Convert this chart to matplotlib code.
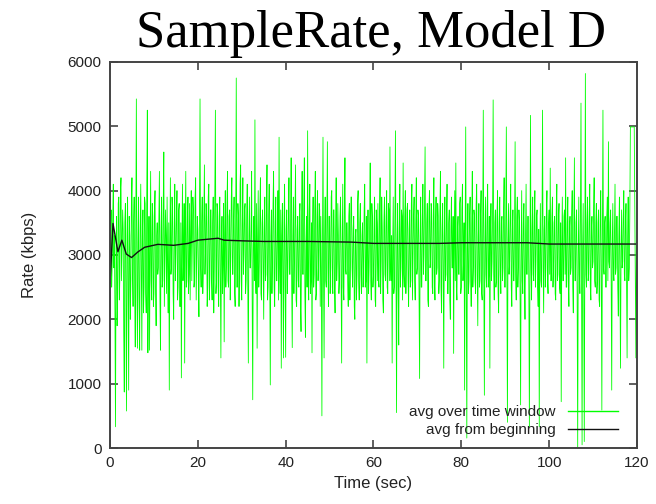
import numpy as np
import matplotlib
matplotlib.use('Agg')
import matplotlib.pyplot as plt

# rate sampled every 0.125 sec (kbps), one row per second
window_rate = [
    2600, 3300, 3700, 2500, 2900, 3600, 4100, 2800,
    3300, 2100, 330, 3100, 3600, 1900, 2400, 3800,
    3900, 2300, 2700, 4000, 4200, 2600, 3100, 3700,
    3400, 1800, 870, 3500, 3800, 2200, 575, 3300,
    3900, 2500, 900, 3600, 3300, 2000, 2600, 3800,
    4200, 2700, 2200, 3500, 3900, 2400, 1570, 3700,
    5425, 2600, 1550, 3200, 3900, 2300, 1520, 3400,
    4100, 2800, 1520, 3300, 3700, 2100, 2500, 3900,
    3800, 2400, 2100, 4000, 5250, 1480, 2900, 3600,
    1520, 3100, 4300, 2600, 2300, 3800, 3600, 2200,
    2400, 3700, 4000, 2500, 1900, 3300, 3500, 2700,
    2800, 3600, 4300, 2300, 1520, 3400, 3900, 2500,
    2600, 3800, 4600, 2200, 2900, 3700, 3300, 2400,
    3900, 2800, 2100, 3500, 900, 3100, 4200, 2700,
    2800, 3900, 3700, 2400, 2000, 3400, 4100, 2600,
    3000, 3600, 4000, 2300, 2500, 3700, 3800, 2200,
    2200, 3500, 1090, 3100, 4100, 2600, 2900, 3800,
    1320, 3300, 4300, 2500, 2600, 3600, 3900, 2400,
    2700, 3800, 2300, 3300, 4000, 2600, 3200, 3900,
    3700, 2500, 2600, 3900, 4200, 2300, 2900, 3600,
    3400, 2600, 2040, 3700, 5425, 2800, 2500, 3500,
    3900, 2400, 2800, 3600, 4400, 2700, 3100, 3800,
    3600, 2200, 2500, 3900, 4100, 2300, 2700, 3700,
    3700, 2600, 2300, 3500, 3900, 2100, 2800, 4000,
    5250, 2400, 2600, 3800, 3700, 2500, 2200, 3600,
    3900, 2700, 1400, 3200, 3600, 2400, 2900, 3800,
    1650, 3300, 4000, 2500, 2800, 3700, 4300, 2600,
    2500, 3600, 3700, 2300, 3000, 3900, 4200, 2700,
    2700, 3500, 3900, 2400, 2200, 3600, 5750, 2500,
    2500, 3800, 3600, 2200, 2900, 4100, 4400, 2600,
    2300, 3500, 4200, 2700, 3000, 3700, 3800, 2400,
    2600, 3600, 4100, 2500, 1320, 3300, 3900, 2800,
    2800, 3400, 4300, 2300, 750, 3100, 3600, 2600,
    5100, 2700, 2400, 3800, 1550, 3200, 4000, 2500,
    2900, 3700, 4200, 2400, 2300, 3500, 3700, 2800,
    2000, 3400, 3900, 2600, 2700, 3800, 4400, 2300,
    2500, 3600, 4100, 2700, 980, 3300, 3700, 2400,
    2900, 3800, 4300, 2500, 2200, 3500, 3900, 2600,
    2600, 3400, 4000, 2300, 4830, 2800, 2400, 3700,
    1240, 3300, 3800, 2600, 1400, 3500, 4100, 2500,
    1410, 3400, 3700, 2400, 2800, 3600, 4200, 2700,
    2700, 3500, 4510, 2500, 1560, 3300, 3900, 2400,
    2900, 3700, 4400, 2300, 2200, 3400, 3600, 2600,
    2500, 3600, 3800, 2200, 1810, 3500, 4300, 2700,
    2700, 3800, 4510, 2400, 1720, 3200, 3600, 2500,
    4930, 2600, 2300, 3700, 4100, 2400, 2600, 3500,
    1480, 3400, 3900, 2500, 2700, 3700, 4300, 2300,
    2400, 3600, 4000, 2600, 2900, 3800, 3700, 2200,
    3600, 2800, 500, 3100, 4830, 2700, 1400, 3300,
    3900, 2600, 2500, 3500, 4760, 2800, 2200, 3600,
    3600, 2400, 2800, 3900, 4000, 2500, 2400, 3700,
    3700, 2500, 2100, 3400, 4200, 2600, 2900, 3800,
    3300, 2400, 2600, 3600, 3900, 2700, 1320, 3200,
    4100, 2500, 2300, 3700, 4510, 2800, 2700, 3500,
    3500, 2600, 2200, 3600, 3800, 2300, 2900, 3900,
    3900, 2800, 2500, 3400, 3600, 2200, 2000, 3300,
    3400, 2300, 2700, 3800, 4000, 2600, 2300, 3500,
    3800, 2700, 2400, 3300, 3500, 2500, 2900, 3700,
    4100, 2500, 2600, 3600, 1320, 3100, 3700, 2400,
    2800, 3500, 4430, 2600, 2300, 3800, 3600, 2500,
    2700, 3400, 3900, 2300, 2200, 3700, 3500, 2600,
    3800, 2600, 2500, 3600, 4200, 2400, 2900, 3900,
    3400, 2300, 2100, 3500, 3900, 2700, 2600, 3600,
    4000, 2500, 2400, 3800, 3700, 2600, 4680, 2800,
    2600, 3300, 1320, 3100, 3900, 2400, 2500, 3600,
    4930, 2600, 550, 3200, 3800, 2500, 1600, 3400,
    4100, 2500, 2800, 3700, 3600, 2300, 4430, 2700,
    2500, 3600, 4000, 2400, 2900, 3700, 3800, 2600,
    2200, 3400, 3700, 2500, 2600, 3800, 4100, 2300,
    2900, 3600, 3900, 2600, 2300, 3500, 4200, 2700,
    2800, 3700, 3600, 2400, 1080, 3300, 3900, 2500,
    2500, 3600, 4100, 2700, 3000, 3800, 4680, 2600,
    2600, 3500, 3800, 2300, 2200, 3700, 4000, 2800,
    2900, 3800, 3700, 2500, 2400, 3600, 4200, 2600,
    2300, 3500, 3900, 2700, 2800, 3800, 3600, 2400,
    2600, 3700, 4300, 2500, 2100, 3400, 3800, 2700,
    1240, 3300, 3900, 2600, 2700, 3600, 4100, 2400,
    2400, 3500, 3700, 2300, 2000, 3400, 3900, 2800,
    2800, 3600, 1470, 3200, 4000, 2600, 4430, 2500,
    2300, 3400, 3600, 2700, 2700, 3800, 3900, 2400,
    2500, 3700, 4100, 2600, 2900, 3500, 900, 3300,
    4990, 2500, 155, 3100, 3800, 2400, 2600, 3600,
    3900, 2700, 2200, 3500, 4300, 2500, 2800, 3700,
    3600, 2600, 2400, 3800, 4100, 2700, 1900, 3300,
    3800, 2500, 2600, 3600, 4000, 2400, 2300, 3500,
    5250, 2600, 820, 3200, 3900, 2700, 2500, 3700,
    4100, 2500, 2700, 3600, 1240, 3300, 3800, 2600,
    2900, 3700, 5410, 2700, 2300, 3500, 3700, 2500,
    2600, 3600, 4000, 2400, 2100, 3500, 3900, 2700,
    2400, 3500, 3600, 2600, 2800, 3700, 4200, 2500,
    2500, 3600, 4990, 2600, 400, 3200, 3800, 2700,
    2900, 3600, 4100, 2500, 2200, 3400, 3700, 2600,
    2600, 3500, 4760, 2700, 2300, 3600, 3900, 2500,
    2800, 3700, 3500, 2400, 670, 3100, 4000, 2600,
    2400, 3500, 3800, 2600, 2000, 3300, 4100, 2700,
    2700, 3600, 3600, 2500, 330, 3000, 5170, 2800,
    2300, 3400, 3900, 2700, 2600, 3600, 4000, 2500,
    2900, 3600, 3700, 2500, 2200, 3400, 330, 3000,
    3800, 2600, 2500, 3500, 5250, 2800, 2100, 3400,
    3600, 2500, 2800, 3700, 4000, 2600, 2400, 3500,
    3700, 2700, 4350, 2600, 2600, 3600, 3900, 2500,
    2800, 3500, 3600, 2400, 2300, 3700, 4100, 2600,
    2700, 3600, 3800, 2500, 2400, 3500, 720, 3100,
    3900, 2600, 2600, 3600, 3700, 2700, 4510, 2500,
    2500, 3500, 3900, 2600, 2200, 3400, 3600, 2700,
    2800, 3600, 4000, 2500, 2100, 3500, 4510, 2600,
    2600, 3500, 3700, 2400, 0, 3000, 3900, 2700,
    2400, 3600, 5360, 2500, 50, 3100, 3800, 2600,
    100, 3200, 5820, 2700, 2500, 3500, 3900, 2600,
    2700, 3600, 4100, 2500, 2300, 3400, 3600, 2800,
    2900, 3700, 4200, 2600, 2500, 3500, 3800, 2400,
    2600, 3500, 3700, 2300, 2200, 3600, 4000, 2700,
    590, 3300, 5250, 2800, 2700, 3500, 3600, 2500,
    2500, 3600, 3900, 2600, 4760, 2900, 2800, 3500,
    3700, 2600, 900, 3200, 3800, 2700, 2600, 3400,
    4100, 2700, 2800, 3600, 3600, 2500, 2050, 3300,
    3900, 2600, 1240, 3100, 3700, 2800, 2900, 3600,
    4000, 2700, 2600, 3500, 3800, 2500, 1400, 3300,
    3900, 2600, 2800, 3700, 4990, 4990, 4990, 4990,
    4990, 4990, 4990, 4990, 3700, 2600, 1400, 3200,
    2500,
]
window_time = np.arange(len(window_rate)) * 0.125

# running average
avg_time = [0, 0.68, 1.8, 2.7, 3.7, 4.9, 6.4, 7.9, 10.9, 14.5, 17.8, 20, 24.6,
            26, 30, 35, 45, 55, 60, 75, 80, 95, 100, 120]
avg_rate = [2560, 3490, 3050, 3230, 3015, 2960, 3050, 3120, 3165, 3150, 3180, 3230, 3260,
            3230, 3220, 3210, 3210, 3200, 3180, 3180, 3190, 3190, 3170, 3170]

fig = plt.figure(figsize=(6.56, 5.04), dpi=100)
ax = fig.add_axes([0.1677, 0.1111, 0.8033, 0.766])

ax.plot(window_time, window_rate, color='#00ff00', lw=0.6, label='avg over time window')
ax.plot(avg_time, avg_rate, color='#111111', lw=1.0, label='avg from beginning')

ax.set_xlim(0, 120)
ax.set_ylim(0, 6000)
ax.set_xticks(range(0, 121, 20))
ax.set_yticks(range(0, 6001, 1000))

frame = '#444444'
for s in ax.spines.values():
    s.set_color(frame)
    s.set_linewidth(1.4)
ax.tick_params(direction='in', length=6, width=1.2, color=frame,
               top=True, right=True, labelsize=11, labelcolor='#222222', pad=6)
for lbl in ax.get_xticklabels() + ax.get_yticklabels():
    lbl.set_family('Liberation Sans')

ax.set_xlabel('Time (sec)', fontsize=12, family='Liberation Sans', color='#222222', labelpad=4)
ax.set_ylabel('Rate (kbps)', fontsize=12, family='Liberation Sans', color='#222222', labelpad=22)

fig.text(0.5655, 0.907, 'SampleRate, Model D', family='Liberation Serif', fontsize=38,
         ha='center', va='baseline')

leg = ax.legend(loc='lower right', bbox_to_anchor=(0.985, 0.0), frameon=False,
                markerfirst=False, handlelength=3.3, handletextpad=0.8,
                labelspacing=0.25, borderaxespad=0.3,
                prop={'family': 'Liberation Sans', 'size': 11})
for t in leg.get_texts():
    t.set_color('#222222')
for h in leg.get_lines():
    h.set_linewidth(1.0)

fig.savefig('out.png', dpi=100)
